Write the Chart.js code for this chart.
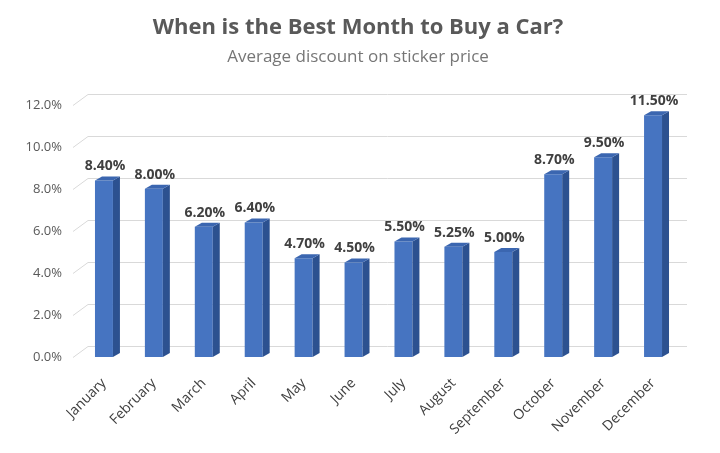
<!DOCTYPE html>
<html>
<head>
<meta charset="utf-8">
<script src="https://cdn.jsdelivr.net/npm/chart.js@4/dist/chart.umd.min.js"></script>
<style>
  html, body { margin: 0; padding: 0; background: #ffffff; }
  #wrap { width: 720px; height: 453px; }
</style>
</head>
<body>
<div id="wrap"><canvas id="carChart" width="720" height="453"></canvas></div>
<script>
const months = ["January", "February", "March", "April", "May", "June",
                "July", "August", "September", "October", "November", "December"];
const discounts = [8.40, 8.00, 6.20, 6.40, 4.70, 4.50, 5.50, 5.25, 5.00, 8.70, 9.50, 11.50];
const yTicks = [0, 2, 4, 6, 8, 10, 12];

// depth of the fake 3d look
const DX = 7, DY = 4;
const WALL_DX = 15, WALL_DY = 11;

const backWall = {
    id: 'backWall',
    beforeDatasetsDraw(chart) {
        const ctx = chart.ctx;
        const y = chart.scales.y;
        const area = chart.chartArea;
        ctx.save();
        ctx.strokeStyle = '#d9d9d9';
        ctx.lineWidth = 1;
        yTicks.forEach(v => {
            let py = Math.round(y.getPixelForValue(v)) + 0.5;
            ctx.beginPath();
            ctx.moveTo(area.left - 6, py);
            ctx.lineTo(area.left - 6 + WALL_DX, py - WALL_DY);
            ctx.lineTo(area.right + 9, py - WALL_DY);
            ctx.stroke();
        });
        ctx.restore();
    }
};

const bars3d = {
    id: 'bars3d',
    afterDatasetsDraw(chart) {
        const ctx = chart.ctx;
        const meta = chart.getDatasetMeta(0);
        ctx.save();
        meta.data.forEach((bar, i) => {
            let l = bar.x - bar.width / 2;
            let r = bar.x + bar.width / 2;
            let top = bar.y, base = bar.base;
            // right side
            ctx.fillStyle = '#2c5190';
            ctx.beginPath();
            ctx.moveTo(r, top);
            ctx.lineTo(r + DX, top - DY);
            ctx.lineTo(r + DX, base - DY);
            ctx.lineTo(r, base);
            ctx.closePath();
            ctx.fill();
            // top face
            ctx.fillStyle = '#3b66b0';
            ctx.beginPath();
            ctx.moveTo(l, top);
            ctx.lineTo(l + DX, top - DY);
            ctx.lineTo(r + DX, top - DY);
            ctx.lineTo(r, top);
            ctx.closePath();
            ctx.fill();
            // value label
            ctx.fillStyle = '#404040';
            ctx.font = 'bold 14px "Open Sans"';
            ctx.textAlign = 'center';
            ctx.textBaseline = 'alphabetic';
            ctx.fillText(discounts[i].toFixed(2) + '%', bar.x + 1, top - DY - 6);
        });
        ctx.restore();
    }
};

new Chart("carChart", {
    type: "bar",
    data: {
        labels: months,
        datasets: [{
            data: discounts,
            backgroundColor: "#4674c1",
            borderWidth: 0,
            barPercentage: 0.36,
            categoryPercentage: 1.0
        }]
    },
    options: {
        responsive: false,
        animation: false,
        devicePixelRatio: 1,
        layout: { padding: { left: 20, right: 24, top: 0, bottom: 0 } },
        plugins: {
            legend: { display: false },
            tooltip: { enabled: false },
            title: {
                display: true,
                text: "When is the Best Month to Buy a Car?",
                color: "#595959",
                font: { family: "Open Sans", size: 22, weight: "bold" },
                padding: { top: 15, bottom: 6 }
            },
            subtitle: {
                display: true,
                text: "Average discount on sticker price",
                color: "#767676",
                font: { family: "Open Sans", size: 17 },
                padding: { top: 0, bottom: 37 }
            }
        },
        scales: {
            y: {
                min: 0,
                max: 12,
                afterFit(scale) { scale.width = 59; },
                afterBuildTicks(scale) { scale.ticks = yTicks.map(v => ({ value: v })); },
                grid: { display: false },
                border: { display: false },
                ticks: {
                    color: "#595959",
                    padding: 9,
                    font: { family: "Open Sans", size: 13 },
                    callback: v => v.toFixed(1) + "%"
                }
            },
            // empty right axis, only keeps room for the back wall on the right
            yRight: {
                type: "linear",
                position: "right",
                min: 0,
                max: 12,
                afterFit(scale) { scale.width = 18; },
                grid: { display: false },
                border: { display: false },
                ticks: { display: false }
            },
            x: {
                afterFit(scale) { scale.height = 96; },
                grid: { display: false },
                border: { display: false },
                ticks: {
                    color: "#404040",
                    padding: 10,
                    minRotation: 45,
                    maxRotation: 45,
                    font: { family: "Open Sans", size: 14 }
                }
            }
        }
    },
    plugins: [backWall, bars3d]
});
</script>
</body>
</html>
